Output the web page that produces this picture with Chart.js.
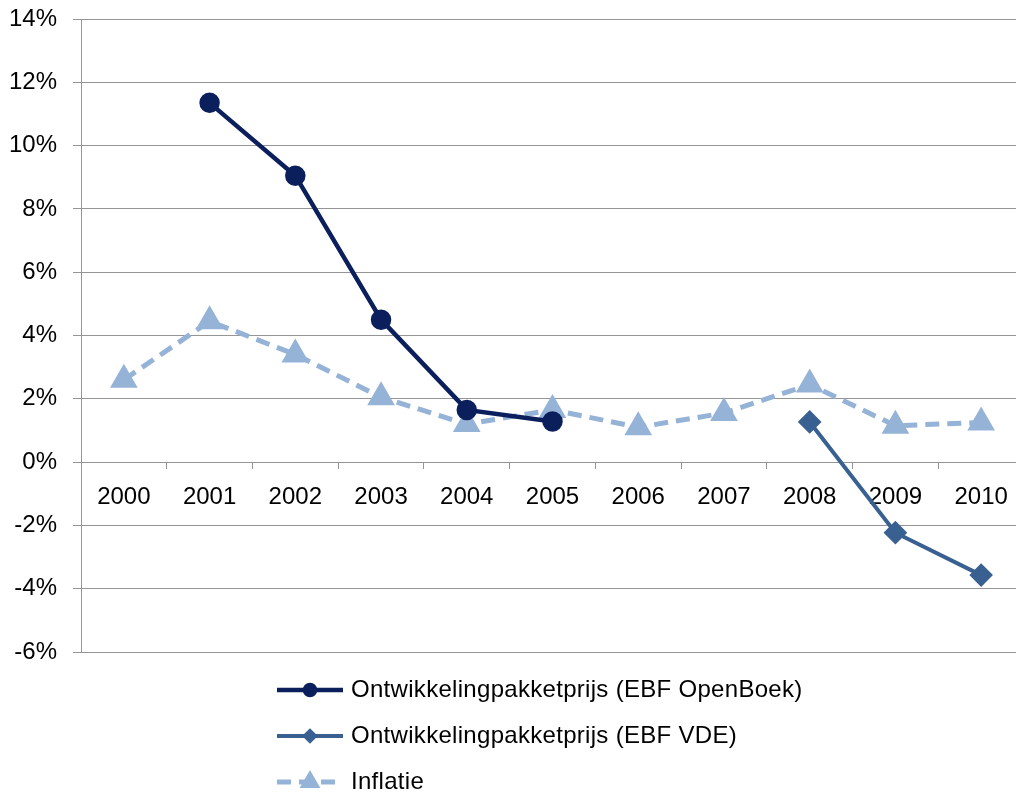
<!DOCTYPE html>
<html>
<head>
	<title>Ontwikkelingpakketprijs</title>
	<script src="https://cdn.jsdelivr.net/npm/chart.js"></script>
	<style>
		body { margin: 0; overflow: hidden; background: #fff; }
		#wrap { width: 1040px; height: 800px; position: relative; }
	</style>
</head>
<body>
	<div id="wrap"><canvas id="myChart"></canvas></div>
	<script>
		// jaren en reeksen (in %)
		const years = ['2000', '2001', '2002', '2003', '2004', '2005', '2006', '2007', '2008', '2009', '2010'];
		const openBoek = [null, 11.35, 9.05, 4.5, 1.65, 1.28, null, null, null, null, null];
		const vde = [null, null, null, null, null, null, null, null, 1.27, -2.23, -3.57];
		const inflatie = [2.6, 4.45, 3.4, 2.05, 1.2, 1.65, 1.1, 1.55, 2.45, 1.15, 1.25];
		const legendNames = ['Ontwikkelingpakketprijs (EBF OpenBoek)', 'Ontwikkelingpakketprijs (EBF VDE)', 'Inflatie'];

		const font = { family: '"Liberation Sans", Arial, sans-serif', size: 24 };
		const gridColor = '#959595';

		// legenda onder elkaar tekenen
		const stackedLegend = {
			id: 'stackedLegend',
			afterDraw(chart) {
				const ctx = chart.ctx;
				const area = chart.chartArea;
				const x0 = 277, x1 = 343, tx = 351;
				ctx.save();
				chart.data.datasets.forEach((ds, i) => {
					const y = area.bottom + 38 + i * 46;
					ctx.strokeStyle = ds.borderColor;
					ctx.lineWidth = ds.borderWidth;
					ctx.setLineDash(ds.borderDash || []);
					ctx.beginPath();
					ctx.moveTo(x0, y);
					ctx.lineTo(x1, y);
					ctx.stroke();
					ctx.setLineDash([]);
					ctx.fillStyle = ds.pointBackgroundColor;
					ctx.strokeStyle = ds.borderColor;
					Chart.helpers.drawPoint(ctx, {
						pointStyle: ds.pointStyle,
						radius: ds.legendRadius,
						rotation: 0,
						borderWidth: 1
					}, (x0 + x1) / 2, y);
					ctx.fillStyle = '#000';
					ctx.font = font.size + 'px ' + font.family;
					ctx.letterSpacing = '0.3px';
					ctx.textBaseline = 'middle';
					ctx.textAlign = 'left';
					ctx.fillText(legendNames[i], tx, y);
				});
				ctx.restore();
			}
		};

		var ctx = document.getElementById('myChart').getContext('2d');
		var chart = new Chart(ctx, {
			type: 'line',
			data: {
				labels: years,
				datasets: [{
					label: legendNames[0],
					data: openBoek,
					borderColor: '#0b1f5c',
					pointBackgroundColor: '#0b1f5c',
					borderWidth: 4.5,
					pointStyle: 'circle',
					pointRadius: 8,
					legendRadius: 5,
					tension: 0
				},
				{
					label: legendNames[1],
					data: vde,
					borderColor: '#386090',
					pointBackgroundColor: '#386090',
					borderWidth: 4,
					pointStyle: 'rectRot',
					pointRadius: 9,
					legendRadius: 5,
					tension: 0
				},
				{
					label: legendNames[2],
					data: inflatie,
					borderColor: '#95b3d7',
					pointBackgroundColor: '#95b3d7',
					borderWidth: 5,
					borderDash: [14, 8],
					pointStyle: 'triangle',
					pointRadius: 11,
					legendRadius: 7,
					tension: 0
				}]
			},
			options: {
				responsive: true,
				maintainAspectRatio: false,
				animation: false,
				layout: { padding: { left: 0, top: 19, right: 16, bottom: 148 } },
				plugins: {
					legend: { display: false },
					tooltip: { enabled: false }
				},
				scales: {
					x: {
						position: { y: 0 },
						offset: true,
						grid: {
							offset: true,
							drawOnChartArea: false,
							drawTicks: true,
							tickLength: 6,
							color: gridColor
						},
						border: { color: gridColor },
						ticks: {
							color: '#000',
							font: font,
							padding: 15,
							maxRotation: 0,
							autoSkip: false
						}
					},
					y: {
						min: -6,
						max: 14,
						afterFit: s => {
							s.width = 81;
							s.paddingTop = 0;
							s.paddingBottom = 0;
						},
						grid: { color: gridColor, tickLength: 8 },
						border: { color: gridColor },
						ticks: {
							stepSize: 2,
							color: '#000',
							font: font,
							padding: 16,
							callback: v => v + '%'
						}
					}
				}
			},
			plugins: [stackedLegend]
		});
	</script>
</body>
</html>
